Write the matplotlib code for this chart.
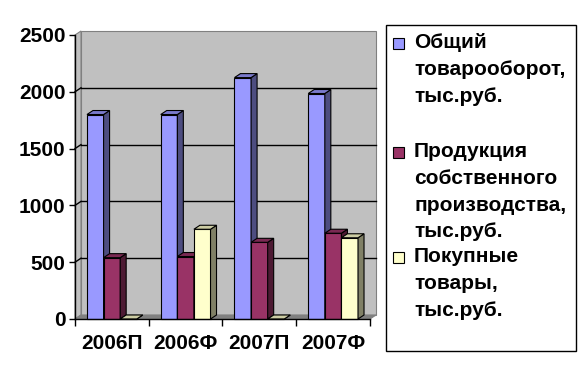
import matplotlib
matplotlib.use("Agg")
import matplotlib.pyplot as plt
from matplotlib.patches import Polygon, Rectangle

plt.rcParams['font.family'] = ['Liberation Sans', 'DejaVu Sans']
plt.rcParams['font.weight'] = 'bold'

# данные
categories = ["2006П", "2006Ф", "2007П", "2007Ф"]
series_labels = [
    "Общий\nтоварооборот,\nтыс.руб.",
    "Продукция\nсобственного\nпроизводства,\nтыс.руб.",
    "Покупные\nтовары,\nтыс.руб.",
]
total_turnover = [1800, 1800, 2125, 1985]
own_production = [540, 550, 675, 755]
bought_goods = [0, 790, 0, 715]
y_ticks = [0, 500, 1000, 1500, 2000, 2500]

series = [total_turnover, own_production, bought_goods]
# цвета: передняя грань, боковая, верхняя
front_colors = ["#9999FF", "#993366", "#FFFFCC"]
side_colors = ["#4D4D80", "#4D1A33", "#808066"]
top_colors = ["#7A7ACC", "#7A2952", "#CCCCA3"]

W, H = 587, 377
fig = plt.figure(figsize=(W / 100, H / 100), dpi=100)
fig.patch.set_facecolor("white")

# положение осей в пикселях (передняя плоскость)
x0, x1, ytop, ybot = 75, 370, 35, 319
ax = fig.add_axes([x0 / W, 1 - ybot / H, (x1 - x0) / W, (ybot - ytop) / H])
ax.set_xlim(0, len(categories))
ax.set_ylim(0, 2500)
ax.patch.set_visible(False)

# смещение глубины в единицах данных
dx = 6 / (x1 - x0) * len(categories)
dy = 4 / (ybot - ytop) * 2500
n = len(categories)
ymax = y_ticks[-1]

# стенки и пол
back = Polygon([(dx, dy), (n + dx, dy), (n + dx, ymax + dy), (dx, ymax + dy)],
               closed=True, facecolor="#C0C0C0", edgecolor="#808080", lw=0.8,
               zorder=0, clip_on=False)
left = Polygon([(0, 0), (dx, dy), (dx, ymax + dy), (0, ymax)],
               closed=True, facecolor="#C0C0C0", edgecolor="#808080", lw=0.8,
               zorder=0, clip_on=False)
floor = Polygon([(0, 0), (n, 0), (n + dx, dy), (dx, dy)],
                closed=True, facecolor="#808080", edgecolor="#808080", lw=0.8,
                zorder=0.5, clip_on=False)
for p in (back, left, floor):
    ax.add_patch(p)

# линии сетки
for v in y_ticks[1:-1]:
    ax.plot([dx, n + dx], [v + dy, v + dy], color="black", lw=1, zorder=1, clip_on=False)
    ax.plot([0, dx], [v, v + dy], color="black", lw=1, zorder=1, clip_on=False)

# столбики
w = 0.225
for s, vals in enumerate(series):
    z = 3 + s * 3
    xs = [i + 0.5 + (s - 1) * w for i in range(n)]
    ax.bar(xs, vals, width=w, color=front_colors[s], edgecolor="black",
           lw=0.8, zorder=z, clip_on=False)
    for xc, v in zip(xs, vals):
        xl, xr = xc - w / 2, xc + w / 2
        side = Polygon([(xr, 0), (xr + dx, dy), (xr + dx, v + dy), (xr, v)],
                       closed=True, facecolor=side_colors[s], edgecolor="black",
                       lw=0.8, zorder=z + 1, clip_on=False)
        top = Polygon([(xl, v), (xr, v), (xr + dx, v + dy), (xl + dx, v + dy)],
                      closed=True, facecolor=top_colors[s], edgecolor="black",
                      lw=0.8, zorder=z + 2, clip_on=False)
        ax.add_patch(side)
        ax.add_patch(top)

# оси
for sp in ("top", "right"):
    ax.spines[sp].set_visible(False)
for sp in ("left", "bottom"):
    ax.spines[sp].set_linewidth(1)
    ax.spines[sp].set_zorder(20)
ax.set_yticks(y_ticks)
ax.set_yticklabels([str(v) for v in y_ticks], fontsize=15, fontweight="bold")
ax.set_xticks(range(n + 1))
ax.set_xticklabels([])
ax.set_xticks([i + 0.5 for i in range(n)], minor=True)
ax.set_xticklabels(categories, minor=True, fontsize=15, fontweight="bold")
ax.tick_params(axis="x", which="minor", length=0, pad=11)
ax.tick_params(axis="x", which="major", direction="out", length=5, width=1)
ax.tick_params(axis="y", direction="out", length=4, width=1, pad=3)

# легенда
def fx(px):
    return px / W


def fy(py):
    return 1 - py / H


fig.patches.append(Rectangle((fx(386), fy(351)), fx(576) - fx(386), fy(25) - fy(351),
                             transform=fig.transFigure, facecolor="white",
                             edgecolor="black", lw=1, zorder=0))
entry_tops = [38, 147, 252]
for s, label in enumerate(series_labels):
    t = entry_tops[s]
    fig.patches.append(Rectangle((fx(393), fy(t + 11)), fx(404) - fx(393), fy(t) - fy(t + 11),
                                 transform=fig.transFigure, facecolor=front_colors[s],
                                 edgecolor="black", lw=0.8, zorder=2))
    fig.text(fx(414), fy(t - 5), label, fontsize=15, fontweight="bold",
             va="top", ha="left", linespacing=1.52)

fig.savefig("out.png", dpi=100)
